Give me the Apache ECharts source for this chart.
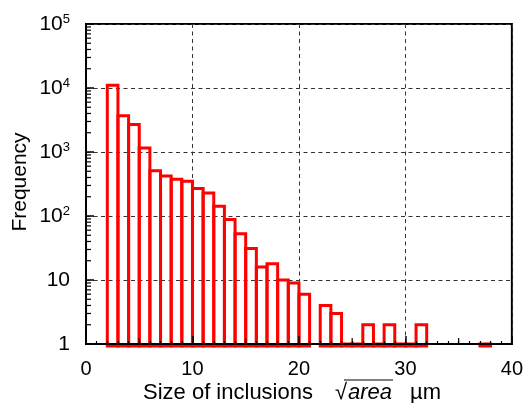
<!DOCTYPE html>
<html><head><meta charset="utf-8">
<script src="https://cdn.jsdelivr.net/npm/echarts@6/dist/echarts.min.js"></script>
<style>html,body{margin:0;padding:0;background:#fff}#c{width:526px;height:403px}</style>
</head><body><div id="c"></div>
<script>
// ---- data ----
const binLeft  = [2,3,4,5,6,7,8,9,10,11,12,13,14,15,16,17,18,19,20,21,22,23,24,25,26,27,28,29,30,31,32,33,34,35,36,37];
const binRight = [3,4,5,6,7,8,9,10,11,12,13,14,15,16,17,18,19,20,21,22,23,24,25,26,27,28,29,30,31,32,33,34,35,36,37,38];
const counts   = [11000,3700,2700,1150,510,420,375,350,270,228,142,88,53,31,16,18,10,9,6,0,4,3,1,1,2,1,2,1,1,2,0,0,0,0,0,1];
const xTickValues = [0,10,20,30,40];
const xTickLabels = ['0','10','20','30','40'];
const yTickValues = [1,10,100,1000,10000,100000];
const yTickLabels = ['1','10','{b|10}{s|2}','{b|10}{s|3}','{b|10}{s|4}','{b|10}{s|5}'];
const yTitle = 'Frequency';
const xTitleMain = 'Size of inclusions';
const xTitleRoot = 'area';
const xTitleUnit = 'µm';

// ---- derived ----
const barData = [];
for (let i = 0; i < binLeft.length; i++) if (counts[i] > 0) barData.push([binLeft[i], binRight[i], counts[i]]);
const yMinor = [];
for (let k = 0; k < 5; k++) for (let m = 2; m <= 9; m++) yMinor.push([0, m * Math.pow(10, k)]);
const xMid = [[5,1],[15,1],[25,1],[35,1]];

const FONT = '"Liberation Sans", Arial, Helvetica, sans-serif';
const chart = echarts.init(document.getElementById('c'), null, {renderer: 'canvas'});
chart.setOption({
  animation: false,
  backgroundColor: '#fff',
  grid: {left: 86, right: 14, top: 24, bottom: 59, show: true, borderColor: '#000', borderWidth: 2, backgroundColor: 'transparent'},
  xAxis: [{
    type: 'value', min: 0, max: 40, interval: 10,
    axisLine: {show: false},
    axisTick: {show: false},
    splitLine: {show: true, lineStyle: {color: '#333', type: [4, 3.5], width: 1}},
    axisLabel: {fontSize: 20, fontWeight: 'normal', fontFamily: FONT, color: '#000', margin: 15,
      formatter: v => { const i = xTickValues.indexOf(v); return i >= 0 ? xTickLabels[i] : ''; }}
  }, {
    type: 'value', min: 0, max: 40, interval: 10, position: 'bottom', z: 10,
    axisLine: {show: true, onZero: false, lineStyle: {color: '#000', width: 2}},
    axisTick: {show: true, inside: true, length: 8, lineStyle: {color: '#000', width: 1.5}},
    minorTick: {show: true, splitNumber: 10, length: 3, lineStyle: {color: '#000', width: 1.2}},
    splitLine: {show: false},
    axisLabel: {show: false}
  }],
  yAxis: {
    type: 'log', logBase: 10, min: 1, max: 100000,
    axisLine: {show: true, lineStyle: {color: '#000', width: 2}},
    axisTick: {show: true, inside: true, length: 8, lineStyle: {color: '#000', width: 1.5}},
    minorTick: {show: false},
    splitLine: {show: true, lineStyle: {color: '#333', type: [4, 3.5], width: 1}},
    axisLabel: {
      fontSize: 21, fontWeight: 'normal', fontFamily: FONT, color: '#000', margin: 16,
      formatter: v => { const i = yTickValues.indexOf(Math.round(v)); return i >= 0 ? yTickLabels[i] : ''; },
      rich: {
        b: {fontSize: 21, fontWeight: 'normal', fontFamily: FONT, color: '#000', lineHeight: 23},
        s: {fontSize: 13, fontWeight: 'normal', fontFamily: FONT, color: '#000', verticalAlign: 'top', lineHeight: 13}
      }
    }
  },
  series: [{
    type: 'custom', xAxisIndex: 0, yAxisIndex: 0, z: 3,
    encode: {x: [0, 1], y: 2},
    data: barData,
    renderItem: function (params, api) {
      const p0 = api.coord([api.value(0), 1]);
      const p1 = api.coord([api.value(1), api.value(2)]);
      const yb = p0[1] + 2;
      return {type: 'rect', shape: {x: p0[0], y: p1[1], width: p1[0] - p0[0], height: yb - p1[1]},
        style: {fill: 'none', stroke: '#ff0000', lineWidth: 3}};
    }
  }, {
    type: 'custom', xAxisIndex: 0, yAxisIndex: 0, z: 11, silent: true,
    encode: {x: 0, y: 1},
    data: yMinor,
    renderItem: function (params, api) {
      const p = api.coord([api.value(0), api.value(1)]);
      return {type: 'line', shape: {x1: p[0], y1: p[1], x2: p[0] + 5, y2: p[1]},
        style: {stroke: '#000', lineWidth: 1.2}};
    }
  }, {
    type: 'custom', xAxisIndex: 0, yAxisIndex: 0, z: 11, silent: true,
    encode: {x: 0, y: 1},
    data: xMid,
    renderItem: function (params, api) {
      const p = api.coord([api.value(0), api.value(1)]);
      return {type: 'line', shape: {x1: p[0], y1: p[1], x2: p[0], y2: p[1] - 6},
        style: {stroke: '#000', lineWidth: 1.2}};
    }
  }],
  graphic: [
    {type: 'text', x: 20, y: 182, rotation: Math.PI / 2,
      style: {text: yTitle, font: '21px ' + FONT, fill: '#000', align: 'center', verticalAlign: 'middle', textAlign: 'center', textVerticalAlign: 'middle'}},
    {type: 'text', x: 143, y: 393,
      style: {text: xTitleMain, font: '22px ' + FONT, fill: '#000', align: 'left', verticalAlign: 'middle', textAlign: 'left', textVerticalAlign: 'middle'}},
    {type: 'text', x: 335, y: 393,
      style: {text: '√', font: '22px ' + FONT, fill: '#000', align: 'left', verticalAlign: 'middle', textAlign: 'left', textVerticalAlign: 'middle'}},
    {type: 'text', x: 348, y: 393,
      style: {text: xTitleRoot, font: 'italic 22px ' + FONT, fill: '#000', align: 'left', verticalAlign: 'middle', textAlign: 'left', textVerticalAlign: 'middle'}},
    {type: 'line', shape: {x1: 344, y1: 380, x2: 393, y2: 380}, style: {stroke: '#000', lineWidth: 1.2}},
    {type: 'text', x: 410, y: 393,
      style: {text: xTitleUnit, font: '22px ' + FONT, fill: '#000', align: 'left', verticalAlign: 'middle', textAlign: 'left', textVerticalAlign: 'middle'}}
  ]
});
</script>
</body></html>
